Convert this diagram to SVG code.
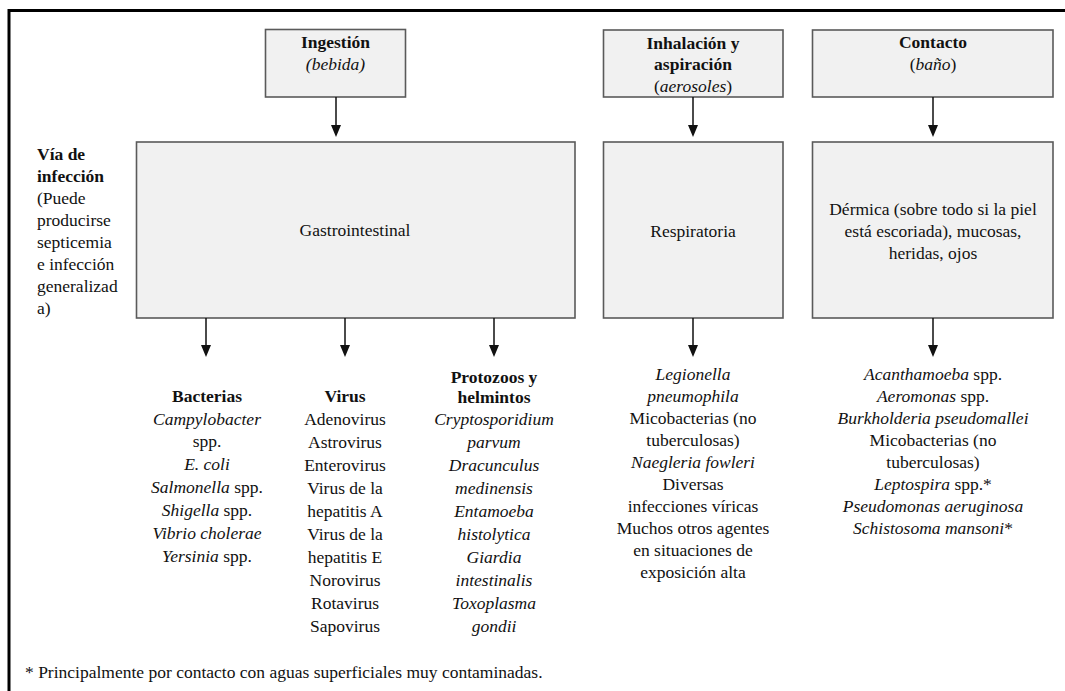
<svg xmlns="http://www.w3.org/2000/svg" width="1065" height="691" viewBox="0 0 1065 691" font-family="Liberation Serif, Tinos, Times New Roman, DejaVu Serif, serif">
<style>
text{font-family:'Liberation Serif','Tinos','Times New Roman','DejaVu Serif',serif;font-size:17.5px;fill:#111}
.c{text-anchor:middle}
.b{font-weight:bold}
.i{font-style:italic}
.box{fill:#f1f1f1;stroke:#5a5a5a;stroke-width:1.6}
.ln{stroke:#111;stroke-width:1.5;fill:none}
.ah{fill:#111}
</style>
<rect width="1065" height="691" fill="#fff"/>
<path d="M9 691 V10.5 H1065" fill="none" stroke="#000" stroke-width="3"/>
<g id="label-via">
<text x="37" y="160" class="b">Vía de</text>
<text x="37" y="182" class="b">infección</text>
<text x="37" y="204">(Puede</text>
<text x="37" y="226">producirse</text>
<text x="37" y="248">septicemia</text>
<text x="37" y="270">e infección</text>
<text x="37" y="292">generalizad</text>
<text x="37" y="314">a)</text>
</g>
<g id="ingestion">
<rect class="box" x="265.5" y="29.5" width="140" height="67.5"/>
<text x="335.5" y="48" class="c b">Ingestión</text>
<text x="335.5" y="70" class="c i">(bebida)</text>
</g>
<g id="inhalacion">
<rect class="box" x="603.5" y="30" width="179.5" height="67"/>
<text x="693" y="49" class="c b">Inhalación y</text>
<text x="693" y="70" class="c b">aspiración</text>
<text x="693" y="91.5" class="c">(<tspan class="i">aerosoles</tspan>)</text>
</g>
<g id="contacto">
<rect class="box" x="812.5" y="30" width="240.5" height="67"/>
<text x="933" y="48" class="c b">Contacto</text>
<text x="933" y="70" class="c">(<tspan class="i">baño</tspan>)</text>
</g>
<g id="gastro">
<rect class="box" x="136.5" y="142" width="438.5" height="176"/>
<text x="355" y="236" class="c">Gastrointestinal</text>
</g>
<g id="respiratoria">
<rect class="box" x="603.5" y="142" width="179.5" height="176"/>
<text x="693" y="237" class="c">Respiratoria</text>
</g>
<g id="dermica">
<rect class="box" x="812.5" y="142" width="240.5" height="176"/>
<text x="933" y="215" class="c">Dérmica (sobre todo si la piel</text>
<text x="933" y="237" class="c">está escoriada), mucosas,</text>
<text x="933" y="259" class="c">heridas, ojos</text>
</g>
<g id="connectors">
<path class="ln" d="M336 97 V125 M693 97 V125 M933 97 V125 M206 318 V346 M345 318 V346 M494 318 V346 M693 318 V346 M933 318 V346"/>
<path class="ah" d="M331 125 H341 L336 137 Z M688 125 H698 L693 137 Z M928 125 H938 L933 137 Z M201 345 H211 L206 357 Z M340 345 H350 L345 357 Z M489 345 H499 L494 357 Z M688 345 H698 L693 357 Z M928 345 H938 L933 357 Z"/>
</g>
<g id="bacterias">
<text x="207" y="402" class="c b">Bacterias</text>
<text x="207" y="425" class="c i">Campylobacter</text>
<text x="207" y="447" class="c">spp.</text>
<text x="207" y="470" class="c i">E. coli</text>
<text x="207" y="493" class="c"><tspan class="i">Salmonella</tspan> spp.</text>
<text x="207" y="516" class="c"><tspan class="i">Shigella</tspan> spp.</text>
<text x="207" y="539" class="c i">Vibrio cholerae</text>
<text x="207" y="562" class="c"><tspan class="i">Yersinia</tspan> spp.</text>
</g>
<g id="virus">
<text x="345" y="402" class="c b">Virus</text>
<text x="345" y="425" class="c">Adenovirus</text>
<text x="345" y="448" class="c">Astrovirus</text>
<text x="345" y="471" class="c">Enterovirus</text>
<text x="345" y="494" class="c">Virus de la</text>
<text x="345" y="517" class="c">hepatitis A</text>
<text x="345" y="540" class="c">Virus de la</text>
<text x="345" y="563" class="c">hepatitis E</text>
<text x="345" y="586" class="c">Norovirus</text>
<text x="345" y="609" class="c">Rotavirus</text>
<text x="345" y="632" class="c">Sapovirus</text>
</g>
<g id="protozoos">
<text x="494" y="383" class="c b">Protozoos y</text>
<text x="494" y="403" class="c b">helmintos</text>
<text x="494" y="425" class="c i">Cryptosporidium</text>
<text x="494" y="448" class="c i">parvum</text>
<text x="494" y="471" class="c i">Dracunculus</text>
<text x="494" y="494" class="c i">medinensis</text>
<text x="494" y="517" class="c i">Entamoeba</text>
<text x="494" y="540" class="c i">histolytica</text>
<text x="494" y="563" class="c i">Giardia</text>
<text x="494" y="586" class="c i">intestinalis</text>
<text x="494" y="609" class="c i">Toxoplasma</text>
<text x="494" y="632" class="c i">gondii</text>
</g>
<g id="resp-agentes">
<text x="693" y="380" class="c i">Legionella</text>
<text x="693" y="402" class="c i">pneumophila</text>
<text x="693" y="424" class="c">Micobacterias (no</text>
<text x="693" y="446" class="c">tuberculosas)</text>
<text x="693" y="468" class="c i">Naegleria fowleri</text>
<text x="693" y="490" class="c">Diversas</text>
<text x="693" y="512" class="c">infecciones víricas</text>
<text x="693" y="534" class="c">Muchos otros agentes</text>
<text x="693" y="556" class="c">en situaciones de</text>
<text x="693" y="578" class="c">exposición alta</text>
</g>
<g id="contacto-agentes">
<text x="933" y="380" class="c"><tspan class="i">Acanthamoeba</tspan> spp.</text>
<text x="933" y="402" class="c"><tspan class="i">Aeromonas</tspan> spp.</text>
<text x="933" y="424" class="c i">Burkholderia pseudomallei</text>
<text x="933" y="446" class="c">Micobacterias (no</text>
<text x="933" y="468" class="c">tuberculosas)</text>
<text x="933" y="490" class="c"><tspan class="i">Leptospira</tspan> spp.*</text>
<text x="933" y="512" class="c i">Pseudomonas aeruginosa</text>
<text x="933" y="534" class="c"><tspan class="i">Schistosoma mansoni</tspan>*</text>
</g>
<g id="footnote">
<text x="25" y="678">* Principalmente por contacto con aguas superficiales muy contaminadas.</text>
</g>
</svg>
